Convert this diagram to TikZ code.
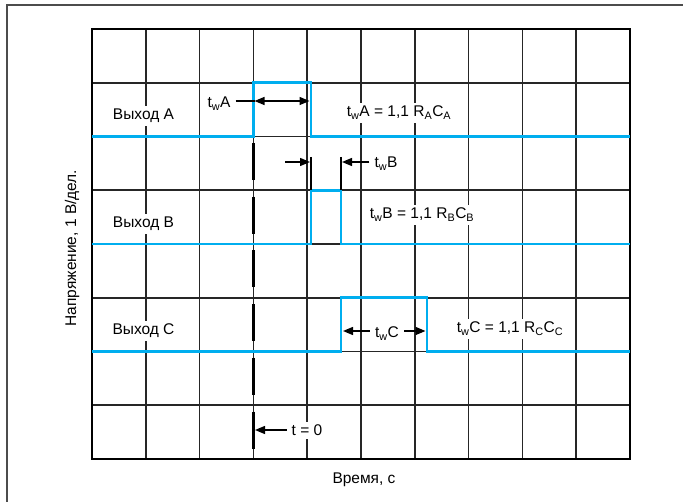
\documentclass[tikz,border=0pt]{standalone}
\usepackage{fontspec}
\setmainfont{Liberation Sans}
\usetikzlibrary{arrows.meta}
\definecolor{tracecol}{RGB}{0,174,239}
\tikzset{
    frame line/.style={line width=2pt, black!70}, % рамка рисунка
    grid line/.style={line width=1.6pt, black!85},
    trace/.style={line width=2.8pt, tracecol, line join=miter},
    label box/.style={fill=white, inner xsep=5pt, inner ysep=3pt, anchor=base},
    dim line/.style={line width=1.4pt, -{Triangle[length=10pt, width=8pt]}},
    both dim line/.style={line width=1.4pt, {Triangle[length=10pt, width=8pt]}-{Triangle[length=10pt, width=8pt]}},
    tick line/.style={line width=1.4pt}
}

\begin{document}
\begin{tikzpicture}[x=1pt, y=-1pt, font=\fontsize{15.5}{18}\selectfont]
    \useasboundingbox (0,0) rectangle (683,502);
    \def\xmin{92} \def\xmax{630} \def\ymin{29} \def\ymax{459}
    \def\dx{53.8} \def\dy{53.75}

    \draw[frame line] (7,502) -- (7,5) -- (683,5);

    % сетка экрана
    \foreach \i in {1,...,9} {\draw[grid line] (\xmin+\i*\dx, \ymin) -- (\xmin+\i*\dx, \ymax);}
    \foreach \j in {1,...,7} {\draw[grid line] (\xmin, \ymin+\j*\dy) -- (\xmax, \ymin+\j*\dy);}
    \draw[line width=2.6pt] (\xmin,\ymin) rectangle (\xmax,\ymax);

    \draw[line width=3pt, dash pattern=on 37pt off 16.75pt] (253.4,143) -- (253.4,\ymax);

    % импульсы
    \draw[trace] (\xmin,136.5) -| (253.4,82.75) -| (311,136.5) -- (\xmax,136.5);
    \draw[trace] (\xmin,244) -| (311,190.25) -| (341,244) -- (\xmax,244);
    \draw[trace] (\xmin,351.5) -| (341,297.75) -| (427,351.5) -- (\xmax,351.5);

    \node[label box] (outA) at (143.5,120) {Выход A};
    \node[label box] (outB) at (143.5,227.5) {Выход B};
    \node[label box] (outC) at (143.5,335) {Выход C};

    \node[label box] (eqA) at (399,117) {t\textsubscript{w}A = 1,1 R\textsubscript{A}C\textsubscript{A}};
    \node[label box] (eqB) at (422,219) {t\textsubscript{w}B = 1,1 R\textsubscript{B}C\textsubscript{B}};
    \node[label box] (eqC) at (510,333) {t\textsubscript{w}C = 1,1 R\textsubscript{C}C\textsubscript{C}};

    % tw A
    \coordinate (wA1) at (254.5,101);
    \coordinate (wA2) at (309.5,101);
    \node[label box] (twA) at (219,108) {t\textsubscript{w}A};
    \draw[tick line] (twA.east |- wA1) -- (wA1);
    \draw[both dim line] (wA1) -- (wA2);

    % tw B
    \coordinate (wB0) at (285,162);
    \coordinate (wB1) at (310,162);
    \coordinate (wB2) at (342,162);
    \draw[tick line] (311,157) -- (311,190.25);
    \draw[tick line] (341,157) -- (341,190.25);
    \node[label box] (twB) at (386,168) {t\textsubscript{w}B};
    \draw[dim line] (wB0) -- (wB1);
    \draw[dim line] (twB.west |- wB2) -- (wB2);

    % tw C
    \coordinate (wC1) at (343,331);
    \coordinate (wC2) at (425.5,331);
    \node[label box] (twC) at (387,338) {t\textsubscript{w}C};
    \draw[dim line] (twC.west |- wC1) -- (wC1);
    \draw[dim line] (twC.east |- wC2) -- (wC2);

    % t = 0
    \coordinate (tz) at (255,430);
    \node[label box] (tzero) at (307,436) {t = 0};
    \draw[dim line] (tzero.west |- tz) -- (tz);

    \node[anchor=base] (xlab) at (364,483) {Время, с};
    \node[rotate=90] (ylab) at (72,248) {Напряжение, 1 В/дел.};
\end{tikzpicture}
\end{document}
